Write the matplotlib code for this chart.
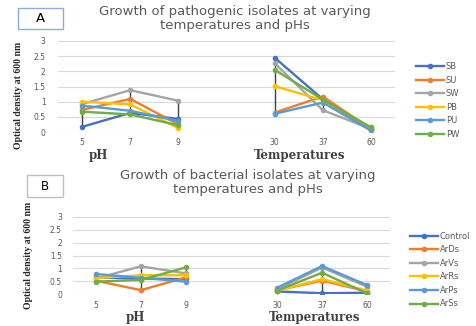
import matplotlib
matplotlib.use('Agg')
import matplotlib.pyplot as plt
from matplotlib.patches import Rectangle
import numpy as np

# categories: pH 5,7,9 then a gap, then temperatures 30,37,60
cat_labels = ['5', '7', '9', '', '30', '37', '60']

# panel A - pathogenic isolates (nan = empty gap category)
names_a = ['SB', 'SU', 'SW', 'PB', 'PU', 'PW']
SB = [0.17, 0.63, 0.43, np.nan, 2.45, 1.08, 0.05]
SU = [0.73, 1.09, 0.25, np.nan, 0.64, 1.17, 0.10]
SW = [0.92, 1.38, 1.03, np.nan, 2.27, 0.72, 0.10]
PB = [1.00, 0.91, 0.13, np.nan, 1.51, 1.05, 0.15]
PU = [0.87, 0.70, 0.36, np.nan, 0.60, 0.97, 0.05]
PW = [0.67, 0.58, 0.22, np.nan, 2.05, 1.07, 0.15]

# panel B - bacterial isolates
names_b = ['Control', 'ArDs', 'ArVs', 'ArRs', 'ArPs', 'ArSs']
Control = [0.65, 0.60, 0.58, np.nan, 0.10, 0.03, 0.05]
ArDs = [0.52, 0.15, 0.65, np.nan, 0.14, 0.52, 0.10]
ArVs = [0.60, 1.08, 0.80, np.nan, 0.18, 1.03, 0.28]
ArRs = [0.62, 0.73, 0.73, np.nan, 0.13, 0.58, 0.13]
ArPs = [0.78, 0.63, 0.48, np.nan, 0.24, 1.09, 0.34]
ArSs = [0.48, 0.55, 1.04, np.nan, 0.13, 0.83, 0.02]

colors = ['#4472C4', '#ED7D31', '#A5A5A5', '#FFC000', '#5B9BD5', '#70AD47']
W, H = 477, 326
grey = '#595959'


def px_axes(fig, x0, x1, y_top, y_bot):
    return fig.add_axes([x0 / W, 1 - y_bot / H, (x1 - x0) / W, (y_bot - y_top) / H])


def panel(ax, series, names, ypad, xpad):
    x = np.arange(len(cat_labels))
    data = np.array(series)
    # high-low lines
    lo = np.nanmin(data, axis=0)
    hi = np.nanmax(data, axis=0)
    ok = ~np.isnan(lo)
    ax.vlines(x[ok], lo[ok], hi[ok], color='#404040', lw=1, zorder=2)
    for s, n, c in zip(series, names, colors):
        ax.plot(x, s, '-o', color=c, lw=1.7, ms=3, label=n, zorder=3)
    ax.set_xlim(-0.5, 6.5)
    ax.set_ylim(0, 3)
    ax.set_yticks(np.arange(0, 3.01, 0.5))
    ax.set_yticklabels(['0', '0.5', '1', '1.5', '2', '2.5', '3'])
    ax.set_xticks([0, 1, 2, 4, 5, 6])
    ax.set_xticklabels(['5', '7', '9', '30', '37', '60'])
    ax.grid(axis='y', color='#D9D9D9', lw=0.8)
    ax.set_axisbelow(True)
    for sp in ax.spines.values():
        sp.set_visible(False)
    ax.tick_params(length=0, labelsize=5.5, labelcolor=grey)
    ax.tick_params(axis='y', pad=ypad)
    ax.tick_params(axis='x', pad=xpad)


fig = plt.figure(figsize=(W / 100, H / 100), dpi=100)

# ---- panel A ----
axA = px_axes(fig, 58, 395, 41, 132)
panel(axA, [SB, SU, SW, PB, PU, PW], names_a, 9, 4)
axA.legend(loc='center left', bbox_to_anchor=(416 / W, 1 - 100.5 / H),
           bbox_transform=fig.transFigure, frameon=False, fontsize=6,
           handlelength=3.4, handletextpad=0.2, labelspacing=0.55,
           borderpad=0, borderaxespad=0, labelcolor=grey)
fig.text(235 / W, 1 - 11 / H, 'Growth of pathogenic isolates at varying',
         ha='center', va='center', fontsize=9.5, color=grey)
fig.text(235 / W, 1 - 25 / H, 'temperatures and pHs',
         ha='center', va='center', fontsize=9.5, color=grey)
fig.add_artist(Rectangle((18 / W, 1 - 29 / H), 45 / W, 21 / H,
                         transform=fig.transFigure, fill=False,
                         ec='#8FAADC', lw=1))
fig.text(40 / W, 1 - 18.5 / H, 'A', ha='center', va='center', fontsize=9.5)
fig.text(19 / W, 1 - 95 / H, 'Optical density at 600 nm', rotation=90,
         ha='center', va='center', fontsize=7, fontweight='bold',
         family='Liberation Serif', color='#262626')
fig.text(98 / W, 1 - 156 / H, 'pH', ha='center', va='center', fontsize=8.5,
         fontweight='bold', family='DejaVu Serif', color='#404040')
fig.text(300 / W, 1 - 156 / H, 'Temperatures', ha='center', va='center',
         fontsize=8.5, fontweight='bold', family='DejaVu Serif', color='#404040')

# ---- panel B ----
axB = px_axes(fig, 73, 390, 217, 294)
panel(axB, [Control, ArDs, ArVs, ArRs, ArPs, ArSs], names_b, 8, 5)
axB.legend(loc='center left', bbox_to_anchor=(410 / W, 1 - 270 / H),
           bbox_transform=fig.transFigure, frameon=False, fontsize=6,
           handlelength=3.4, handletextpad=0.2, labelspacing=0.55,
           borderpad=0, borderaxespad=0, labelcolor=grey)
fig.text(248 / W, 1 - 176 / H, 'Growth of bacterial isolates at varying',
         ha='center', va='center', fontsize=9.5, color=grey)
fig.text(248 / W, 1 - 189 / H, 'temperatures and pHs',
         ha='center', va='center', fontsize=9.5, color=grey)
fig.add_artist(Rectangle((27 / W, 1 - 197 / H), 36 / W, 22 / H,
                         transform=fig.transFigure, fill=False,
                         ec='#BFBFBF', lw=1))
fig.text(45 / W, 1 - 186 / H, 'B', ha='center', va='center', fontsize=8.5)
fig.text(29 / W, 1 - 255 / H, 'Optical density at 600 nm', rotation=90,
         ha='center', va='center', fontsize=7, fontweight='bold',
         family='Liberation Serif', color='#262626')
fig.text(135 / W, 1 - 317 / H, 'pH', ha='center', va='center', fontsize=8.5,
         fontweight='bold', family='DejaVu Serif', color='#404040')
fig.text(315 / W, 1 - 317 / H, 'Temperatures', ha='center', va='center',
         fontsize=8.5, fontweight='bold', family='DejaVu Serif', color='#404040')

fig.savefig('out.png', dpi=100)
